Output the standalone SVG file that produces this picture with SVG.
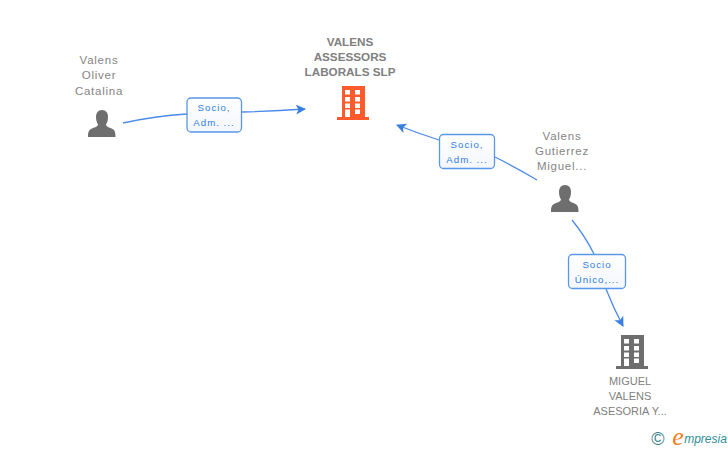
<svg xmlns="http://www.w3.org/2000/svg" width="728" height="450" viewBox="0 0 728 450">
<style>
text{font-family:"Liberation Sans",Arial,sans-serif;text-anchor:middle}
.n{font-size:11.5px;fill:#858585;letter-spacing:.75px}
.t{font-size:11.7px;fill:#808080;font-weight:bold}
.m{font-size:11px;fill:#808080}
.l{font-size:9.7px;fill:#2f7de8;letter-spacing:1px}
.c{fill:none;stroke:#4a8ae8;stroke-width:1.3}
.b{fill:url(#g);stroke:#5a96ea;stroke-width:1.3}
</style>
<defs>
<linearGradient id="g" x1="0" y1="0" x2="0" y2="1"><stop offset="0" stop-color="#fff"/><stop offset="1" stop-color="#f3f6fb"/></linearGradient>
<marker id="a" viewBox="0 0 10 10" refX="9" refY="5" markerWidth="10" markerHeight="10" markerUnits="userSpaceOnUse" orient="auto"><path d="M0 0L10 5L0 10L2.500 5Z" fill="#3a7fe0"/></marker>
<path id="p" fill="#6e6e6e" d="M14 0C18 0 20 3 20 7C20 10.500 19 13 18 14.500C18 16.500 21.500 17.500 24 18.800C27 20.300 27.500 22.500 27.500 27H0C0 22.500 .5 20.300 3.500 18.800C6 17.500 10 16.500 10 14.500C9 13 8 10.500 8 7C8 3 10 0 14 0Z"/>
<path id="bl" d="M5 0H28V31H32V34H0V31H5Z"/>
<g id="w" fill="#fff"><rect x="8" y="4" width="5" height="4.500"/><rect x="18" y="4" width="5" height="4.500"/><rect x="8" y="11" width="5" height="4.500"/><rect x="18" y="11" width="5" height="4.500"/><rect x="8" y="17.500" width="5" height="4.500"/><rect x="18" y="17.500" width="5" height="4.500"/><rect x="8" y="23.500" width="5" height="7.500"/><rect x="18" y="23.500" width="5" height="4.500"/></g>
</defs>
<g id="connectors">
<path class="c" d="M123 123Q155 116 187 114"/>
<path class="c" marker-end="url(#a)" d="M242 112Q275 111 305 109"/>
<path class="c" d="M537 180Q517 168 495 157"/>
<path class="c" marker-end="url(#a)" d="M439 140Q417 133 397 125"/>
<path class="c" d="M572 220Q585 236 594 254"/>
<path class="c" marker-end="url(#a)" d="M606 289Q613 307 623 326"/>
</g>
<g id="node-oliver">
<text class="n" x="99" y="64">Valens</text><text class="n" x="99" y="79">Oliver</text><text class="n" x="99" y="95">Catalina</text>
<use href="#p" x="88" y="110"/>
</g>
<g id="node-assessors">
<text class="t" x="350" y="46">VALENS</text><text class="t" x="350" y="61">ASSESSORS</text><text class="t" x="350" y="76">LABORALS SLP</text>
<use href="#bl" x="337" y="86" fill="#ff5a2b"/><use href="#w" x="337" y="86"/>
</g>
<g id="node-gutierrez">
<text class="n" x="562" y="140">Valens</text><text class="n" x="562" y="155">Gutierrez</text><text class="n" x="562" y="170">Miguel...</text>
<use href="#p" x="551" y="185"/>
</g>
<g id="node-miguel">
<use href="#bl" x="616" y="335" fill="#6e6e6e"/><use href="#w" x="616" y="335"/>
<text class="m" x="630" y="385">MIGUEL</text><text class="m" x="630" y="400">VALENS</text><text class="m" x="630" y="415">ASESORIA Y...</text>
</g>
<g id="label-1"><rect class="b" x="187" y="98" width="54.500" height="34" rx="4"/><text class="l" x="214" y="111">Socio,</text><text class="l" x="214" y="126">Adm. ...</text></g>
<g id="label-2"><rect class="b" x="439.500" y="134.500" width="55" height="34" rx="4"/><text class="l" x="467" y="148">Socio,</text><text class="l" x="467" y="163">Adm. ...</text></g>
<g id="label-3"><rect class="b" x="568.500" y="254.500" width="57" height="34" rx="4"/><text class="l" x="597" y="268">Socio</text><text class="l" x="597" y="283">Único,...</text></g>
<g id="logo">
<text x="658" y="445" style="font-size:18px;fill:#3d7f8c">©</text>
<text x="678" y="445" style="font-family:'Liberation Serif',serif;font-size:26px;font-style:italic;fill:#f08020">e</text>
<text x="705.500" y="443" style="font-size:12px;font-style:italic;fill:#2f8c96">mpresia</text>
</g>
</svg>
